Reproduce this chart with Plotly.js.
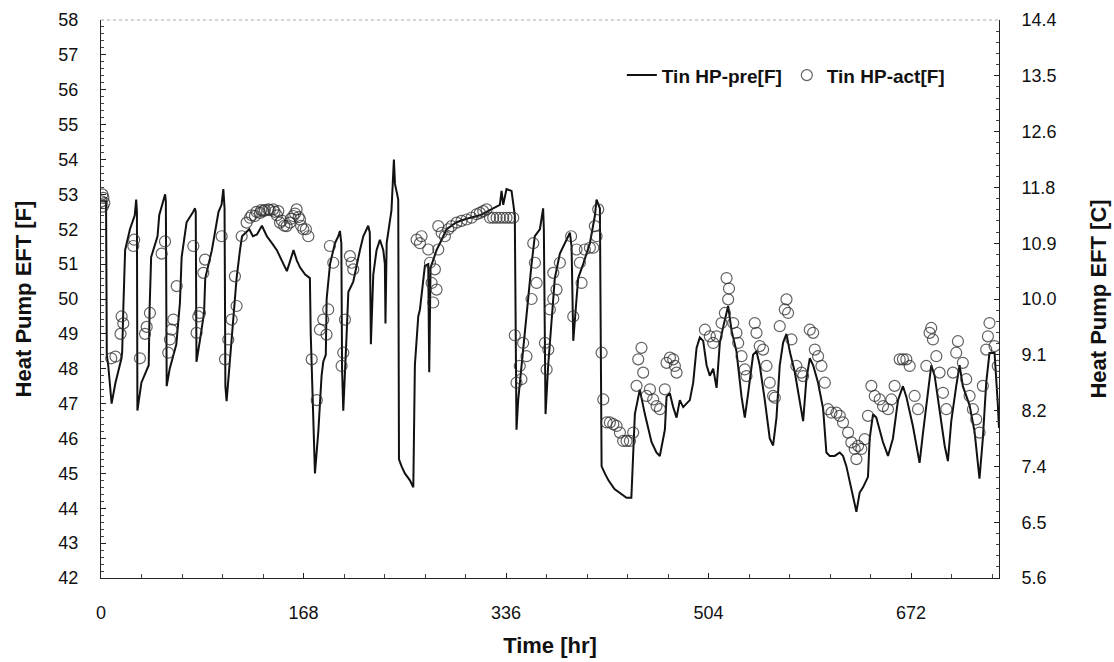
<!DOCTYPE html>
<html>
<head>
<meta charset="utf-8">
<script src="https://cdn.plot.ly/plotly-3.0.1.min.js"></script>
<style>html,body{margin:0;padding:0;background:#fff;}#chart{width:1114px;height:662px;}</style>
</head>
<body>
<div id="chart"></div>
<script>
// Predicted entering fluid temperature (line), hours / deg F
const preTime = [0,4.2,4.8,6,8.8,12,17,17.6,18.5,20,24,28,29.2,29.8,30.2,31.5,33.5,39.6,40.3,41.6,46.9,48.3,53.2,53.8,54.5,57,62.5,64.5,65.5,66.9,71,76.5,78,78.6,79.2,82,85.5,86.5,92,96,97.5,100,101.5,102.5,103.2,104.2,106,109.8,111,112.5,115.3,117,120,123,126,129.4,133.5,137.6,141.8,145.9,151.4,154.2,157,159.7,162.5,165.2,169.4,173.3,174,177.5,180.3,183,184.4,186.5,187.2,190,194.1,196.9,198.2,199.4,200,201,203.8,205.2,209.3,212,214.8,217.6,221.7,223,223.9,225.9,228.6,231.4,234.2,235.5,236,237,241,243,243.9,246.6,247.2,249.4,252.1,256.3,259.1,260.4,261.8,263.2,264.6,268.7,271.5,272.3,273.4,274.3,278.4,282.6,286.7,295,303.3,314.3,322.7,330.9,332.3,333.7,336.4,340.6,343.3,344.7,346.1,348.8,353,354.4,357.2,359.9,364.1,366.8,367.4,368.8,371,375.2,376.5,380.7,386.2,389,390.4,391.8,394.5,395.9,400,405.6,409.8,411.1,413.9,415.3,418,421,426,432,436,440,442.9,447,451.2,456.7,460.8,463.6,467.8,469.2,471.9,474.7,477.5,480.2,483,488.5,491.3,494.1,496.8,499.6,502.4,505.1,507.9,510.7,513.4,516.2,520.3,523.1,527.2,531.4,534.1,536.9,541,543.8,546.5,550.7,554.8,557.6,560.4,563.1,565.9,568.7,571.4,575.6,579.7,582.5,585.2,588,590.8,594.9,599.1,601.8,604.6,608.7,612.9,615.6,618.4,622.5,625.3,626.7,629.4,632.2,636.3,637.7,640.5,643.2,648.7,652.9,657,661.2,665.3,668.1,673.6,679.1,681.9,686,688.8,691.6,695.7,699.9,702.6,705.4,709.5,712.3,715,720.6,724.7,727.5,728.8,731.6,734.4,737.1,741.3,744,745];
const preTemp = [52.8,52.8,48.4,48.1,47.0,47.6,48.3,48.5,49.7,51.4,52.0,52.4,52.85,52.5,46.8,47.1,47.6,48.1,49.7,51.2,51.8,52.4,53.0,52.8,47.5,48.0,48.7,49.5,49.9,51.2,52.2,52.5,52.6,52.5,48.2,48.8,49.6,50.6,51.4,52.2,52.5,52.7,53.15,52.6,47.5,47.07,47.8,49.5,50.0,50.6,51.4,51.8,51.9,52.0,51.8,51.85,52.1,51.8,51.6,51.4,51.0,50.8,51.1,51.4,51.1,50.9,50.7,50.6,49.0,45.0,46.2,47.8,48.2,48.4,50.0,51.0,51.6,51.8,51.95,51.6,48.0,46.8,49.0,50.2,50.5,51.0,51.4,51.8,52.1,51.9,48.7,50.7,51.4,51.7,51.4,51.0,49.3,51.6,52.55,54.0,53.3,52.85,45.4,45.2,45.0,44.8,44.6,48.1,48.85,49.5,49.7,50.95,51.0,47.9,50.9,51.0,51.4,51.7,52.0,52.2,52.3,52.4,52.55,52.7,53.1,52.7,53.15,53.1,52.4,46.25,47.1,48.1,49.5,50.0,51.0,51.8,52.0,52.6,52.0,46.7,48.1,50.0,50.6,51.3,51.7,51.9,51.5,48.8,50.0,50.6,51.0,51.6,52.4,52.85,52.6,45.2,45.0,44.8,44.55,44.4,44.3,44.3,46.7,47.4,46.7,45.9,45.6,45.5,46.25,47.2,47.3,46.9,46.6,47.1,46.9,47.1,47.6,48.6,48.9,48.8,48.1,47.8,48.0,47.45,48.75,49.2,49.8,49.1,48.5,47.2,46.6,47.3,48.4,48.5,48.1,47.1,46.0,45.8,46.6,48.1,48.75,49.0,48.5,47.9,47.1,46.5,47.7,48.3,48.1,47.6,46.85,45.6,45.5,45.5,45.6,45.5,45.2,44.6,44.15,43.9,44.45,44.6,44.9,46.0,46.7,46.6,45.9,45.5,46.0,47.1,47.5,47.2,46.35,45.3,46.15,47.3,48.1,47.8,46.85,45.8,45.35,46.5,47.5,48.1,47.5,46.95,46.2,45.3,44.85,46.0,47.6,48.45,48.45,47.0,46.3];

// Measured entering fluid temperature (circles), hours / deg F
const actTime = [0.5,1.2,2,2.8,1.5,8.5,12,17.1,18.5,16.2,26.8,27.5,32.3,36.5,37.9,40.6,50.3,53.1,55.8,57.2,58.6,60,62.8,76.6,79.3,80.7,82.1,84.9,86.3,100.1,102.9,105.6,108.4,112.5,111.1,116.7,120.8,123.6,125,127.7,129,131.9,133,134.6,136,138.8,140,142.9,144,146,147.1,148.5,150,152,154,156.8,157.5,159.5,161,162.3,164,165.1,166,167.8,170,172,174.8,179,181.6,184.4,187.1,188.5,189.9,192.7,199.6,201,202.4,206.5,207.9,209.3,261.8,265.9,264.6,271.5,272.9,274.3,275.6,278.4,277,279.8,279.8,282.6,285.3,288.1,290.8,295,299.1,303.3,307.4,311.6,314.3,317.1,319.9,322.7,325.4,328.2,330.9,333.7,336.4,339.2,342,343.3,344.7,347.4,348.8,350.2,353,357.2,358.6,360,361.4,368.3,369.7,371.1,372.4,375.2,375.2,377.9,380.7,390,391.8,394.5,397.3,398.7,401.4,405.6,408.4,409.7,411.1,412.5,415.3,416.7,419.5,422.2,425,427.7,430.5,433.2,436,438.8,441.5,444.3,445.7,448.4,449.8,452.6,455.4,458.1,460.9,463.7,467.8,469.2,472,474.7,476.1,477.5,501,505.1,507.9,510.7,514.8,517.6,519,520.3,521,524.5,527.2,528.6,531.4,534.1,535.5,542.4,543.8,546.5,549.3,552.1,554.8,557.6,559,563.1,567.3,568.7,570,572.8,576.9,581.1,582.5,588,590.8,592.2,594.9,597.7,600.5,603.2,606,610.1,612.9,615.6,619.8,622.5,625.3,626.7,628.1,630.8,633.6,636.3,639.1,641.9,646,648.8,652.9,655.7,658.4,662.6,665.3,668.1,670.9,675,677.8,684.7,687.4,688.8,690.2,693,695.7,698.5,701.3,706.8,709.5,710.9,715,717.8,720.6,723.4,726.1,728.9,731.6,734.4,735.8,737.1,741.3,744];
const actTemp = [52.8,53.0,52.9,52.75,52.65,48.3,48.35,49.5,49.3,49.0,51.52,51.7,48.3,49.0,49.2,49.6,51.3,51.65,48.46,48.84,49.12,49.41,50.37,51.52,49.03,49.5,49.6,50.75,51.13,51.8,48.27,48.84,49.41,49.8,50.65,51.8,52.19,52.33,52.4,52.38,52.5,52.47,52.55,52.52,52.55,52.57,52.55,52.57,52.5,52.4,52.52,52.19,52.25,52.1,52.09,52.19,52.3,52.38,52.45,52.57,52.35,52.28,52.1,52.0,52.0,51.8,48.27,47.1,49.12,49.41,48.98,49.7,51.52,51.04,48.08,48.46,49.41,51.23,51.04,50.85,51.7,51.8,51.6,51.42,51.04,50.46,49.9,50.27,50.85,51.42,52.09,51.9,51.8,52.0,52.09,52.19,52.24,52.28,52.33,52.43,52.47,52.52,52.57,52.33,52.33,52.33,52.33,52.33,52.33,52.33,52.33,48.96,47.6,48.08,47.7,48.74,48.36,50.0,51.6,51.04,50.46,48.74,47.98,48.55,49.7,50.75,50.0,50.27,51.04,51.8,49.5,51.42,51.04,50.46,51.42,51.47,51.47,52.09,51.8,52.57,48.46,47.12,46.46,46.46,46.41,46.36,46.17,45.93,45.93,45.93,46.17,47.51,48.27,48.6,47.89,47.22,47.41,47.12,46.93,46.84,47.41,48.17,48.32,48.27,48.08,47.89,49.12,48.93,48.74,48.93,49.31,49.6,50.6,49.99,50.3,49.31,49.03,48.74,48.36,47.98,47.79,49.31,49.03,48.65,48.55,48.08,47.6,47.22,47.17,49.22,49.7,49.99,49.6,48.84,48.08,47.89,47.79,49.12,49.03,48.55,48.36,48.08,47.6,46.84,46.74,46.74,46.65,46.46,46.17,45.89,45.7,45.41,45.79,45.7,45.98,46.65,47.51,47.22,47.12,46.93,46.84,47.12,47.51,48.27,48.27,48.27,48.08,47.22,46.84,48.08,49.03,49.17,48.84,48.36,47.89,47.31,46.84,47.89,48.46,48.79,48.17,47.7,47.22,46.84,46.55,46.17,47.51,48.55,48.93,49.31,48.65,48.08];

const seriesNames = ['Tin HP-pre[F]', 'Tin HP-act[F]'];

// Same predicted series expressed in deg C, used only to carry the right-hand axis
const preTempC = preTemp.map(f => (f - 32) / 1.8);

const FONT = 'Liberation Sans, Arial, Helvetica, sans-serif';

const traces = [
  {
    x: preTime, y: preTemp, name: seriesNames[0], type: 'scatter', mode: 'lines',
    line: {color: '#111', width: 2}, hoverinfo: 'x+y'
  },
  {
    x: actTime, y: actTemp, name: seriesNames[1], type: 'scatter', mode: 'markers',
    marker: {symbol: 'circle-open', size: 11, color: 'rgba(45,45,45,0.75)', line: {width: 1.2}},
    hoverinfo: 'x+y'
  },
  {
    x: preTime, y: preTempC, yaxis: 'y2', type: 'scatter', mode: 'lines',
    line: {color: 'rgba(0,0,0,0)', width: 0}, opacity: 0, showlegend: false, hoverinfo: 'skip'
  }
];

const layout = {
  width: 1114, height: 662,
  margin: {l: 101, r: 115, t: 20, b: 84},
  paper_bgcolor: '#fff', plot_bgcolor: '#fff',
  font: {family: FONT, color: '#111', size: 18},
  showlegend: true,
  legend: {
    orientation: 'h', x: 0.58, y: 0.935, xanchor: 'left', yanchor: 'top',
    font: {family: FONT, size: 19, color: '#111', weight: 'bold'},
    bgcolor: 'rgba(0,0,0,0)', borderwidth: 0
  },
  xaxis: {
    range: [0, 745], tick0: 0, dtick: 168, ticks: 'inside', ticklen: 5, tickcolor: '#222',
    minor: {dtick: 33.6, tick0: 0, ticks: 'inside', ticklen: 4, tickcolor: '#444'},
    showline: true, linecolor: '#222', linewidth: 1, showgrid: false, zeroline: false,
    tickfont: {size: 18, family: FONT}, ticklabelstandoff: 18,
    title: {text: '<b>Time [hr]</b>', font: {size: 22, family: FONT}, standoff: 16}
  },
  yaxis: {
    range: [42, 58], tick0: 42, dtick: 1, ticks: 'inside', ticklen: 5, tickcolor: '#222',
    minor: {dtick: 0.2, ticks: 'inside', ticklen: 3, tickcolor: '#444'},
    showline: true, linecolor: '#222', linewidth: 1, showgrid: false, zeroline: false,
    tickfont: {size: 18, family: FONT}, ticklabelstandoff: 18,
    title: {text: '<b>Heat Pump EFT [F]</b>', font: {size: 22, family: FONT}, standoff: 20}
  },
  yaxis2: {
    overlaying: 'y', side: 'right', anchor: 'x', range: [5.6, 14.4], tick0: 5.6, dtick: 0.88, tickformat: '.1f',
    ticks: 'inside', ticklen: 5, tickcolor: '#222',
    minor: {dtick: 0.176, tick0: 5.6, ticks: 'inside', ticklen: 3, tickcolor: '#444'},
    showline: true, linecolor: '#222', linewidth: 1, showgrid: false, zeroline: false,
    tickfont: {size: 18, family: FONT}, ticklabelstandoff: 18,
    title: {text: '<b>Heat Pump EFT [C]</b>', font: {size: 22, family: FONT}, standoff: 34}
  },
  shapes: [
    {type: 'line', xref: 'paper', yref: 'paper', x0: 0, x1: 1, y0: 1, y1: 1,
     line: {color: '#aaa', width: 1.2, dash: 'dot'}}
  ]
};

Plotly.newPlot('chart', traces, layout, {staticPlot: true, displayModeBar: false});
</script>
</body>
</html>
